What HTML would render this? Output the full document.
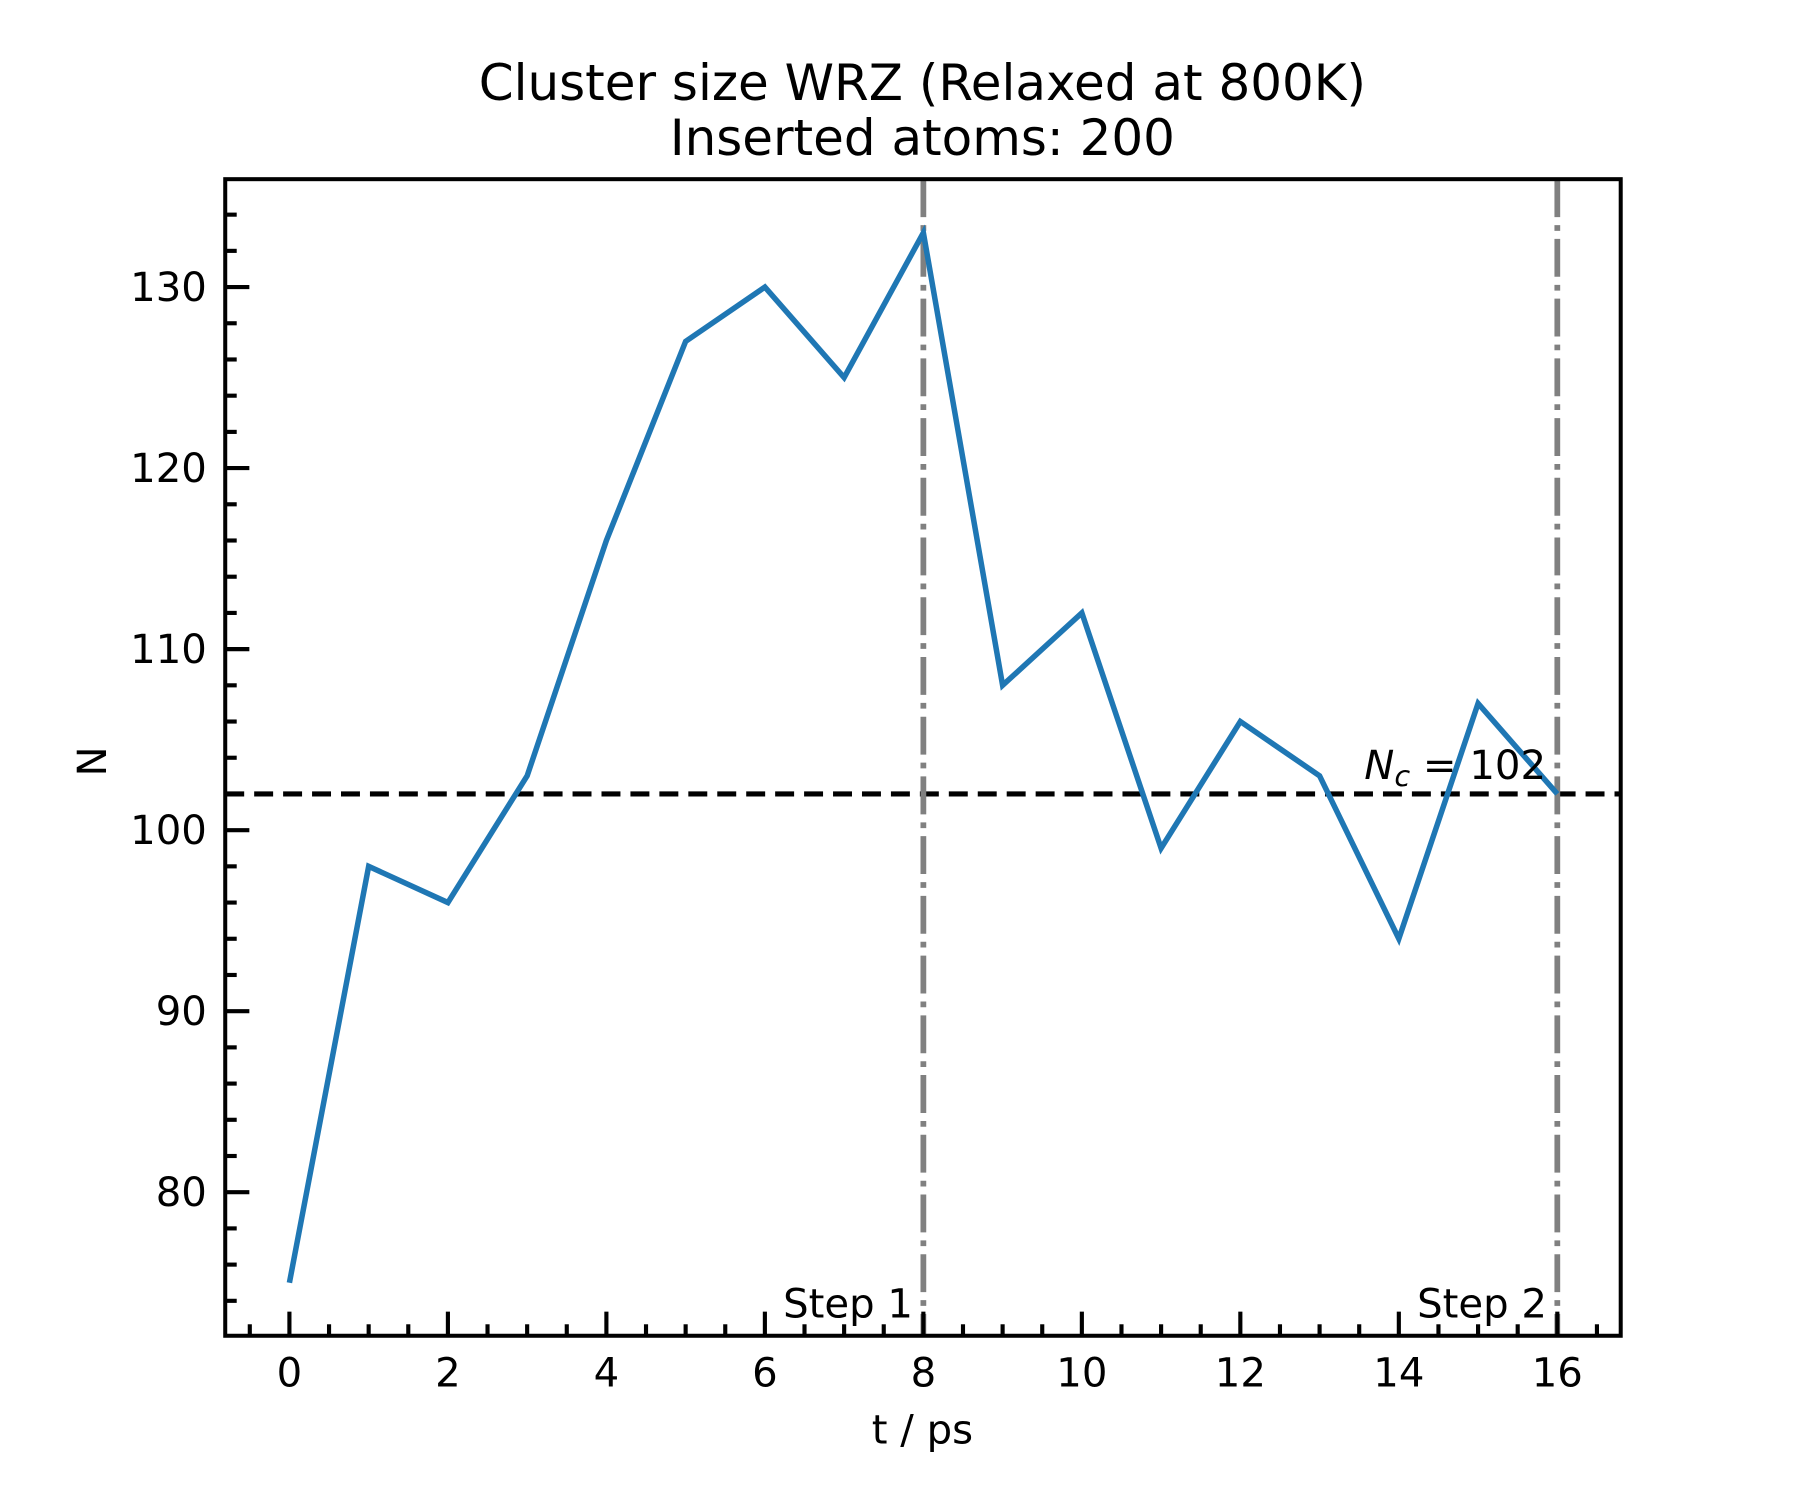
<!DOCTYPE html>
<html><head><meta charset="utf-8"><style>
html,body{margin:0;padding:0;background:#fff;}
svg{display:block;font-family:"DejaVu Sans","Liberation Sans",sans-serif;}
</style></head><body>
<svg id="chart" width="1800" height="1500" viewBox="0 0 1567 1306" xmlns="http://www.w3.org/2000/svg">
<text x="803" y="87" font-size="43.5" text-anchor="middle">Cluster size WRZ (Relaxed at 800K)</text>
<text x="803" y="135" font-size="43.5" text-anchor="middle">Inserted atoms: 200</text>
<g id="plot"></g>
<text x="803" y="1257" font-size="35" text-anchor="middle">t / ps</text>
<text transform="translate(92,663) rotate(-90)" font-size="35" text-anchor="middle">N</text>
</svg>
<script>
const times = [0,1,2,3,4,5,6,7,8,9,10,11,12,13,14,15,16];
const sizes = [75,98,96,103,116,127,130,125,133,108,112,99,106,103,94,107,102];
const xTicks = [0,2,4,6,8,10,12,14,16];
const yTicks = [80,90,100,110,120,130];
const nc = [102];
const steps = [8,16];
const stepLabels = ["Step 1","Step 2"];

const L=196,R=1411,T=156,B=1163;
const x0=-0.81,x1=16.8,y0=72.07,y1=135.96;
const sx=v=>L+(v-x0)/(x1-x0)*(R-L);
const sy=v=>B-(v-y0)/(y1-y0)*(B-T);
const NS="http://www.w3.org/2000/svg";
const g=document.getElementById('plot');
function mk(tag,attrs,parent){const e=document.createElementNS(NS,tag);for(const k in attrs)e.setAttribute(k,attrs[k]);(parent||g).appendChild(e);return e;}

let ln=mk('line',{x1:L,x2:R,y1:sy(nc[0]),y2:sy(nc[0]),stroke:'#000','stroke-width':4.5,'stroke-dasharray':'16.5 8.7'});



steps.forEach((s,i)=>{
  const v=mk('line',{x1:sx(s),x2:sx(s),y1:T,y2:B,stroke:'#808080','stroke-width':5,'stroke-dasharray':'33 7 5 7'});
  
  
  const t=mk('text',{x:sx(s)-9,y:B-16,'font-size':35,'text-anchor':'end'});
  t.textContent=stepLabels[i];
  
  
});

const pl=mk('polyline',{points:times.map((t,i)=>sx(t)+','+sy(sizes[i])).join(' '),fill:'none',stroke:'#1f77b4','stroke-width':4.8,'stroke-linejoin':'miter'});



const nl=mk('text',{x:1346,y:sy(nc[0])-13,'font-size':35,'text-anchor':'end'});
nl.innerHTML='<tspan font-style="italic">N</tspan><tspan font-style="italic" font-size="25" dy="6">c</tspan><tspan dy="-6"> = '+nc[0]+'</tspan>';



for(let v=-0.5;v<=16.8;v+=0.5){
  const maj=Math.abs(v/2-Math.round(v/2))<1e-9;
  mk('line',{x1:sx(v),x2:sx(v),y1:B,y2:B-(maj?21:10),stroke:'#000','stroke-width':3.6});
}
xTicks.forEach(v=>{
  const t=mk('text',{x:sx(v),y:B+44,'font-size':35,'text-anchor':'middle'});
  t.textContent=v;
  
  
});
for(let v=74;v<=135;v+=2){
  const maj=v%10===0;
  mk('line',{x1:L,x2:L+(maj?21:10),y1:sy(v),y2:sy(v),stroke:'#000','stroke-width':3.6});
}
yTicks.forEach(v=>{
  const t=mk('text',{x:L-16,y:sy(v)+12,'font-size':35,'text-anchor':'end'});
  t.textContent=v;
  
  
});

const fr=mk('rect',{x:L,y:T,width:R-L,height:B-T,fill:'none',stroke:'#000','stroke-width':3.5});


</script>
</body></html>
